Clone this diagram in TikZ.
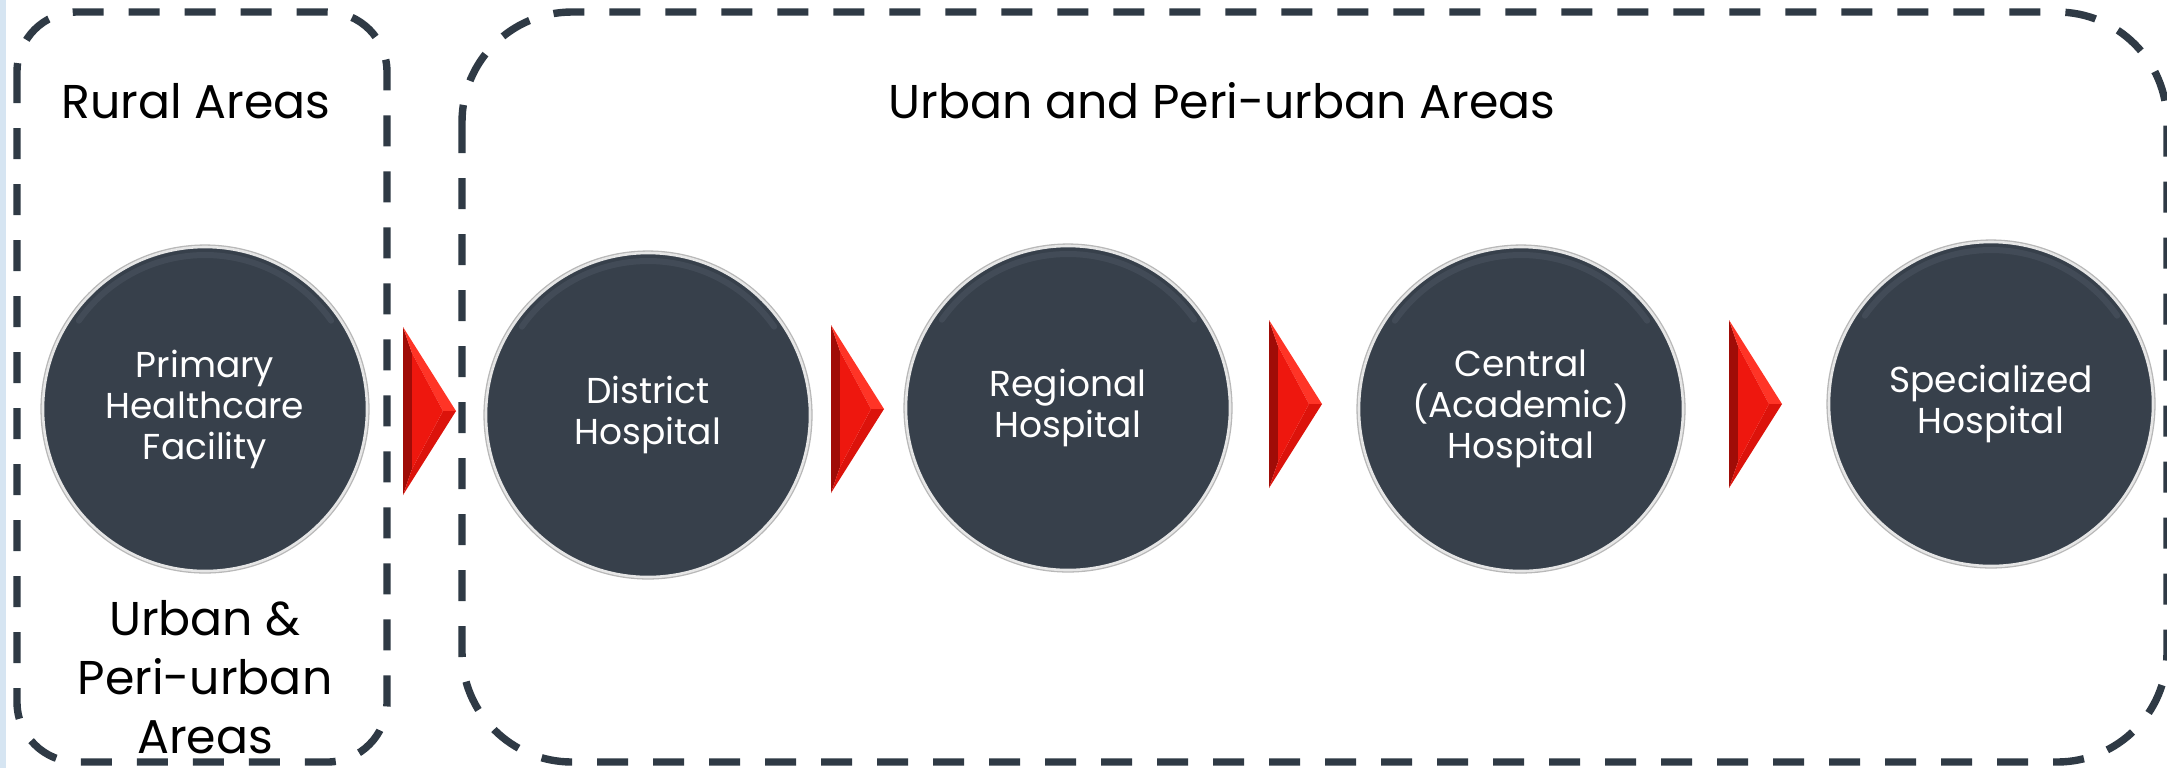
\documentclass[tikz,border=0pt]{standalone}
\usepackage{fontspec}
\setmainfont{Poppins}
\definecolor{dashcol}{HTML}{2F3A45}
\definecolor{circfill}{HTML}{37404B}
\definecolor{rimcol}{HTML}{E6E6E6}
\definecolor{hlcol}{HTML}{505A66}
\definecolor{stripcol}{HTML}{D6E5F2}
\definecolor{tridark}{HTML}{A00C07}
\definecolor{trilight}{HTML}{FF3426}
\definecolor{trimid}{HTML}{DC130B}
\definecolor{trired}{HTML}{EE170E}
\begin{document}
\begin{tikzpicture}[x=0.5pt,y=-0.5pt,
  dashbox/.style={draw=dashcol, line width=3.7pt, dash pattern=on 15.5pt off 12.5pt},
  circ/.style={circle, fill=circfill, draw=rimcol, line width=1.3pt,
    preaction={draw=black!28, line width=2.6pt},
    minimum size=162pt, inner sep=0pt, text=white, align=center,
    font=\fontsize{18}{20.5}\selectfont},
  hl/.style={draw=hlcol, line width=3pt, opacity=0.45, line cap=round},
  lbl/.style={text=black, align=center, inner sep=0pt, font=\fontsize{23.7}{29.5}\selectfont},
  redtri/.pic={
    \fill[tridark] (0,-84) -- (0,84) -- (9,58) -- (9,-58) -- cycle;
    \fill[trilight] (0,-84) -- (53,0) -- (40,0) -- (9,-58) -- cycle;
    \fill[trimid] (0,84) -- (53,0) -- (40,0) -- (9,58) -- cycle;
    \fill[trired] (9,-58) -- (40,0) -- (9,58) -- cycle;
  }]
\useasboundingbox (0,0) rectangle (2167,768);
\fill[white] (0,0) rectangle (2167,768);
\fill[stripcol] (0,0) rectangle (6,768);

% dashed area boxes
\draw[dashbox, rounded corners=30pt] (17,12) rectangle (387,762);
\draw[dashbox, rounded corners=55pt] (462,12) rectangle (2167,762);

% area labels
\node[lbl] (rural) at (196,101) {Rural Areas};
\node[lbl] (urbanperi) at (1222,101) {Urban and Peri-urban Areas};
\node[lbl] (urbanamp) at (205,677) {Urban \&\\Peri-urban\\Areas};

% facility circles
\node[circ] (pf) at (205,409) {Primary\\Healthcare\\Facility};
\node[circ] (dh) at (648,415) {District\\Hospital};
\node[circ] (rh) at (1068,408) {Regional\\Hospital};
\node[circ] (ch) at (1521,409) {Central\\(Academic)\\Hospital};
\node[circ] (sh) at (1991,404) {Specialized\\Hospital};

\foreach \n in {pf,dh,rh,ch,sh}
  \draw[hl] (\n.center) ++(145:77pt) arc[start angle=145, end angle=35, radius=77pt];

% red arrow heads
\pic (a1) at (403,411) {redtri};
\pic (a2) at (831,409) {redtri};
\pic (a3) at (1269,404) {redtri};
\pic (a4) at (1729,404) {redtri};
\end{tikzpicture}
\end{document}
